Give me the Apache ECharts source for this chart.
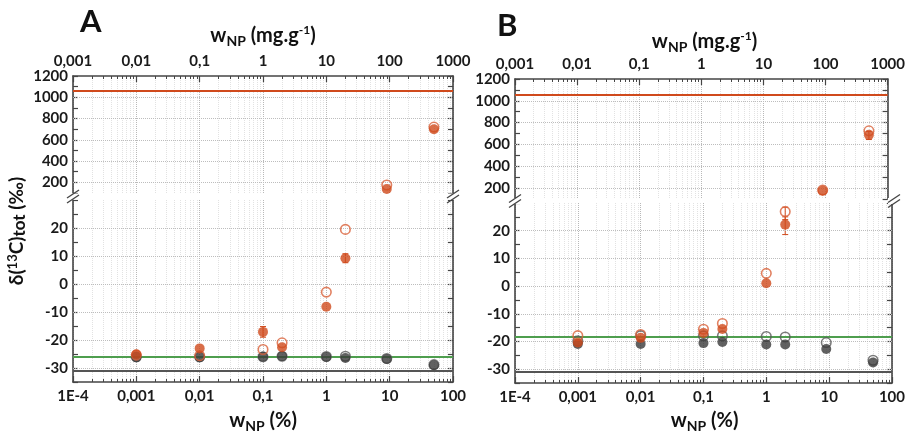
<!DOCTYPE html>
<html><head><meta charset="utf-8">
<script src="https://cdn.jsdelivr.net/npm/echarts@6/dist/echarts.min.js"></script>
<style>html,body{margin:0;padding:0;background:#fff}#c{width:908px;height:433px}</style>
</head><body><div id="c"></div>
<script>
// ---------- data ----------
const wNP = [0.001, 0.01, 0.1, 0.2, 1, 2, 9, 50];           // % (bottom axis)
const xDecades = [1e-4, 1e-3, 1e-2, 1e-1, 1, 10, 100];
const xTickLabelsBottom = ['1E-4', '0,001', '0,01', '0,1', '1', '10', '100'];
const xTickLabelsTop = ['0,001', '0,01', '0,1', '1', '10', '100', '1000'];
const upperYLabels = [200, 400, 600, 800, 1000, 1200];
const lowerYLabels = [-30, -20, -10, 0, 10, 20];
const upperGridY = [200, 400, 600, 800, 1000];
const lowerGridY = [-30, -20, -10, 0, 10, 20];

const A_orangeFilled = [-25.1, -23.0, -17.1, -22.6, -8.1, 9.2, 138, 700];
const A_orangeOpen   = [-25.4, -25.6, -23.4, -21.0, -2.9, 19.5, 175, 720];
const A_greyFilled   = [-26.2, -26.2, -26.0, -25.8, -26.1, -26.4, -26.8, -29.0];
const A_greyOpen     = [-26.0, -26.0, -26.0, -25.8, -25.9, -25.8, -26.6, -28.8];
const A_errors = [[0.1, -19.0, -15.2], [2, 7.6, 10.8]];
const A_lines = {orange: 1060, green: -25.9, grey: -30.9};

const B_orangeFilled = [-20.4, -18.7, -16.9, -15.5, 1.0, 22.2, 176, 688];
const B_orangeOpen   = [-17.9, -17.5, -15.6, -13.5, 4.6, 26.9, 182, 725];
const B_greyFilled   = [-20.9, -20.9, -20.6, -20.2, -21.1, -21.1, -22.7, -27.6];
const B_greyOpen     = [-19.8, -17.9, -18.0, -18.0, -18.2, -18.4, -20.4, -26.8];
const B_errors = [[2, 18.6, 25.0], [2, 24.0, 28.5], [50, 645, 720]];
const B_lines = {orange: 1060, green: -18.2, grey: -31.1};

// minor log ticks (2..9 within each decade)
const xMinor = [];
for (let d = -4; d < 2; d++) for (let k = 2; k <= 9; k++) xMinor.push(+(k * Math.pow(10, d)).toPrecision(3));

// ---------- style ----------
const FONT = 'Lato';
const AX = '#454545';
const ORANGE = '#D04A1C';
const ORANGE_OPEN = '#DA6038';
const GREY = '#3A3A3A';
const GREY_OPEN = '#5A5A5A';
const GREEN = '#4E9E4E';
const GREYLINE = '#555555';

const grids = [], xAxes = [], yAxes = [], series = [], graphics = [];

function majorX(g, pos, labels) {
  return {
    type: 'log', logBase: 10, gridIndex: g, position: pos, min: 1e-4, max: 100,
    axisLine: {show: true, onZero: false, lineStyle: {color: AX, width: 1.6}},
    axisTick: {show: true, inside: true, length: 6, customValues: xDecades, lineStyle: {color: AX, width: 1.2}},
    axisLabel: {show: true, customValues: xDecades, margin: 7, fontFamily: FONT, fontWeight: 'bold', fontSize: 15, color: '#1a1a1a',
      formatter: v => labels[Math.round(Math.log10(v)) + 4]},
    splitLine: {show: true, lineStyle: {type: 'dotted', color: '#b8b8b8', width: 1}}
  };
}
function minorX(g, pos) {
  return {
    type: 'log', logBase: 10, gridIndex: g, position: pos, min: 1e-4, max: 100,
    axisLine: {show: false, onZero: false},
    axisTick: {show: true, inside: true, length: 3, customValues: xMinor, lineStyle: {color: AX, width: 1}},
    axisLabel: {show: false},
    splitLine: {show: true, lineStyle: {type: 'dotted', color: '#e2e2e2', width: 1}}
  };
}
function yAx(g, pos, min, max, interval, labels) {
  return {
    type: 'value', gridIndex: g, position: pos, min: min, max: max, interval: interval,
    axisLine: {show: true, onZero: false, lineStyle: {color: AX, width: 1.6}},
    axisTick: {show: true, inside: true, length: 5, lineStyle: {color: AX, width: 1.2}},
    axisLabel: {show: !!labels, margin: 5, fontFamily: FONT, fontWeight: 'bold', fontSize: 15, color: '#1a1a1a',
      formatter: v => (labels && labels.indexOf(v) >= 0) ? String(v) : ''},
    splitLine: {show: false}
  };
}
function hLines(xi, yi, values, color, width, type, z) {
  return {
    type: 'scatter', xAxisIndex: xi, yAxisIndex: yi, data: [], z: z, silent: true,
    markLine: {silent: true, symbol: ['none', 'none'], label: {show: false}, animation: false,
      lineStyle: {color: color, width: width, type: type},
      data: values.map(v => ({yAxis: v}))}
  };
}
function pts(xi, yi, vals, upper, filled, color, z) {
  const data = [];
  wNP.forEach((x, i) => { const v = vals[i]; if ((v > 30) === upper) data.push([x, v]); });
  return {
    type: 'scatter', xAxisIndex: xi, yAxisIndex: yi, data: data, z: z, symbol: 'circle', symbolSize: filled ? 10 : 9.5,
    itemStyle: filled ? {color: color} : {color: 'rgba(255,255,255,0)', borderColor: color, borderWidth: 1.6},
    emphasis: {disabled: true}
  };
}
function errs(xi, yi, data) {
  return {
    type: 'custom', xAxisIndex: xi, yAxisIndex: yi, data: data, z: 4, silent: true,
    encode: {x: 0, y: [1, 2]},
    renderItem: (params, api) => {
      const x = api.value(0);
      const lo = api.coord([x, api.value(1)]);
      const hi = api.coord([x, api.value(2)]);
      const w = 3, st = {stroke: ORANGE, lineWidth: 1};
      return {type: 'group', children: [
        {type: 'line', shape: {x1: lo[0], y1: lo[1], x2: hi[0], y2: hi[1]}, style: st},
        {type: 'line', shape: {x1: lo[0] - w, y1: lo[1], x2: lo[0] + w, y2: lo[1]}, style: st},
        {type: 'line', shape: {x1: hi[0] - w, y1: hi[1], x2: hi[0] + w, y2: hi[1]}, style: st}
      ]};
    }
  };
}

function addPanel(P) {
  const gU = grids.length; grids.push({left: P.left, top: P.upTop, width: P.width, height: P.upH});
  const gL = grids.length; grids.push({left: P.left, top: P.loTop, width: P.width, height: P.loH});
  const xU = xAxes.length; xAxes.push(majorX(gU, 'top', xTickLabelsTop)); xAxes.push(minorX(gU, 'top'));
  const xL = xAxes.length; xAxes.push(majorX(gL, 'bottom', xTickLabelsBottom)); xAxes.push(minorX(gL, 'bottom'));
  const yU = yAxes.length; yAxes.push(yAx(gU, 'left', 100, 1200, 100, upperYLabels)); yAxes.push(yAx(gU, 'right', 100, 1200, 100, null));
  const yL = yAxes.length; yAxes.push(yAx(gL, 'left', -35, 30, 5, lowerYLabels)); yAxes.push(yAx(gL, 'right', -35, 30, 5, null));

  series.push(hLines(xU, yU, upperGridY, '#bdbdbd', 1, 'dotted', 1));
  series.push(hLines(xL, yL, lowerGridY, '#bdbdbd', 1, 'dotted', 1));
  series.push(hLines(xU, yU, [P.lines.orange], ORANGE, 2.2, 'solid', 2));
  series.push(hLines(xL, yL, [P.lines.green], GREEN, 2.2, 'solid', 2));
  series.push(hLines(xL, yL, [P.lines.grey], GREYLINE, 2.2, 'solid', 2));

  const errU = P.errors.filter(e => e[1] > 30), errL = P.errors.filter(e => e[1] <= 30);
  series.push(errs(xU, yU, errU));
  series.push(errs(xL, yL, errL));

  [[P.go, false, GREY_OPEN, 5], [P.gf, true, GREY, 6], [P.oo, false, ORANGE_OPEN, 7], [P.of, true, ORANGE, 8]].forEach(s => {
    series.push(pts(xU, yU, s[0], true, s[1], s[2], s[3]));
    series.push(pts(xL, yL, s[0], false, s[1], s[2], s[3]));
  });

  // axis break marks on left and right axes
  const yb = (P.upTop + P.upH + P.loTop) / 2;
  [P.left, P.left + P.width].forEach(x => {
    graphics.push({type: 'rect', shape: {x: x - 6, y: yb - 3, width: 12, height: 6}, style: {fill: '#fff'}, z: 100});
    [-2.5, 2.5].forEach(dy => graphics.push({type: 'line', z: 101,
      shape: {x1: x - 6, y1: yb + dy + 4, x2: x + 6, y2: yb + dy - 4}, style: {stroke: AX, lineWidth: 1.3}}));
  });

  // panel letter and axis titles
  graphics.push({type: 'text', x: P.letterX, y: P.letterY, style: {text: P.letter, font: 'bold 31px ' + FONT, fill: '#111'}});
  const rich = {
    w: {fontFamily: FONT, fontWeight: 'bold', fontSize: 20, lineHeight: 24, verticalAlign: 'middle', fill: '#111'},
    sub: {fontFamily: FONT, fontWeight: 'bold', fontSize: 14, lineHeight: 14, verticalAlign: 'bottom', fill: '#111'},
    sup: {fontFamily: FONT, fontWeight: 'bold', fontSize: 12, lineHeight: 12, verticalAlign: 'top', fill: '#111'}
  };
  graphics.push({type: 'text', x: P.left + P.width / 2, y: P.topTitleY,
    style: {text: '{w|w}{sub|NP}{w| (mg.g}{sup|-1}{w|)}', rich: rich, align: 'center', verticalAlign: 'middle'}});
  graphics.push({type: 'text', x: P.left + P.width / 2, y: 421,
    style: {text: '{w|w}{sub|NP}{w| (%)}', rich: rich, align: 'center', verticalAlign: 'middle'}});
}

addPanel({left: 73, width: 380, upTop: 76, upH: 117, loTop: 200, loH: 182,
  of: A_orangeFilled, oo: A_orangeOpen, gf: A_greyFilled, go: A_greyOpen, errors: A_errors, lines: A_lines,
  letter: 'A', letterX: 80, letterY: 6, topTitleY: 36});
addPanel({left: 515, width: 379, upTop: 79, upH: 120, loTop: 203, loH: 180,
  of: B_orangeFilled, oo: B_orangeOpen, gf: B_greyFilled, go: B_greyOpen, errors: B_errors, lines: B_lines,
  letter: 'B', letterX: 497, letterY: 10, topTitleY: 42});

// y-axis title (panel A)
graphics.push({type: 'text', x: 17, y: 231, rotation: Math.PI / 2,
  style: {text: '{a|δ(}{sup|13}{a|C)}{sub|tot}{a| (‰)}', align: 'center', verticalAlign: 'middle',
    rich: {
      a: {fontFamily: FONT, fontWeight: 'bold', fontSize: 19, lineHeight: 22, verticalAlign: 'middle', fill: '#111'},
      sup: {fontFamily: FONT, fontWeight: 'bold', fontSize: 13, lineHeight: 13, verticalAlign: 'top', fill: '#111'},
      sub: {fontFamily: FONT, fontWeight: 'bold', fontSize: 17, lineHeight: 17, verticalAlign: 'bottom', fill: '#111'}
    }}});

const chart = echarts.init(document.getElementById('c'), null, {renderer: 'canvas'});
chart.setOption({
  animation: false,
  backgroundColor: '#fff',
  grid: grids, xAxis: xAxes, yAxis: yAxes, series: series, graphic: graphics
});
</script></body></html>
